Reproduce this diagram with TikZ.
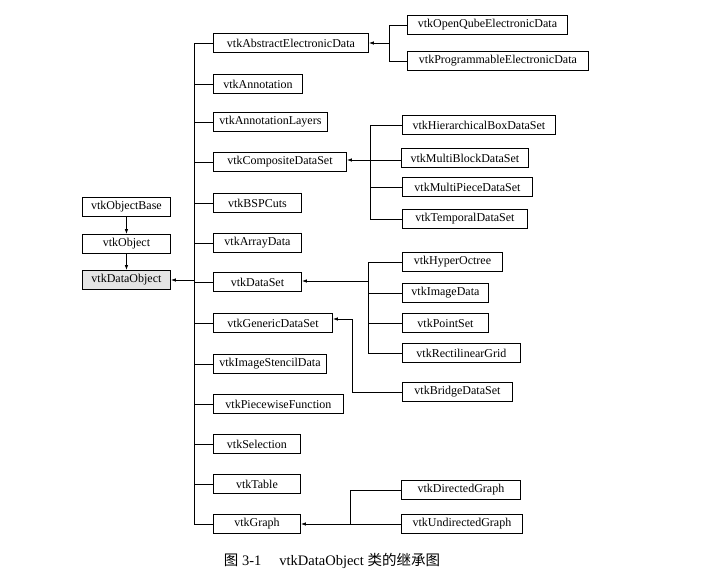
\documentclass[tikz,border=0pt]{standalone}
\usepackage{fontspec}
\setmainfont{Liberation Serif}
\newfontfamily\cjk{Noto Sans CJK SC}
\usetikzlibrary{arrows.meta}
\begin{document}
\begin{tikzpicture}[x=1pt,y=-1pt,
  box/.style={draw,line width=0.9pt,minimum height=19pt,inner sep=0pt,anchor=west,font=\fontsize{12}{13}\selectfont},
  arr/.style={-{Latex[length=5pt,width=3.5pt]},line width=0.8pt},
  ln/.style={line width=0.9pt}]
\useasboundingbox (0,0) rectangle (705,576);
% left column
\node[box,minimum width=88pt] (ob) at (82,207) {vtkObjectBase};
\node[box,minimum width=88pt] (o) at (82,244) {vtkObject};
\node[box,minimum width=88pt,fill=gray!20] (do) at (82,280) {vtkDataObject};
\draw[arr] (ob) -- (o);
\draw[arr] (o) -- (do);
% middle column
\node[box,minimum width=155pt] (ae) at (213,43) {vtkAbstractElectronicData};
\node[box,minimum width=89pt] (an) at (213,84) {vtkAnnotation};
\node[box,minimum width=114pt] (al) at (213,122) {vtkAnnotationLayers};
\node[box,minimum width=133pt] (cd) at (213,162) {vtkCompositeDataSet};
\node[box,minimum width=88pt] (bsp) at (213,203) {vtkBSPCuts};
\node[box,minimum width=88pt] (ad) at (213,243) {vtkArrayData};
\node[box,minimum width=88pt] (ds) at (213,282) {vtkDataSet};
\node[box,minimum width=119pt] (gds) at (213,323) {vtkGenericDataSet};
\node[box,minimum width=113pt] (isd) at (213,364) {vtkImageStencilData};
\node[box,minimum width=130pt] (pf) at (213,404) {vtkPiecewiseFunction};
\node[box,minimum width=87pt] (sel) at (213,444) {vtkSelection};
\node[box,minimum width=87pt] (tab) at (213,484) {vtkTable};
\node[box,minimum width=87pt] (gr) at (213,524) {vtkGraph};
% trunk
\coordinate (tt) at (194,43);
\coordinate (tb) at (194,524);
\coordinate (td) at (194,280);
\draw[ln] (tt) -- (tb);
\foreach \n in {ae,an,al,cd,bsp,ad,ds,gds,isd,pf,sel,tab,gr}
  \draw[ln] (\n.west) -- (\n.west -| tt);
\draw[arr] (td) -- (do.east |- td);
% right column: electronic data
\node[box,minimum width=160pt] (oq) at (407,25) {vtkOpenQubeElectronicData};
\node[box,minimum width=181pt] (pe) at (407,61) {vtkProgrammableElectronicData};
\coordinate (j1) at (389,43);
\draw[ln] (oq.west) -- (oq.west -| j1) -- (pe.west -| j1) -- (pe.west);
\draw[arr] (j1) -- (ae.east);
% composite
\node[box,minimum width=153pt] (hb) at (402,125) {vtkHierarchicalBoxDataSet};
\node[box,minimum width=127pt] (mb) at (401,158) {vtkMultiBlockDataSet};
\node[box,minimum width=130pt] (mp) at (402,187) {vtkMultiPieceDataSet};
\node[box,minimum width=125pt] (tp) at (402,219) {vtkTemporalDataSet};
\coordinate (j2) at (370,160);
\draw[ln] (hb.west) -- (hb.west -| j2) -- (tp.west -| j2) -- (tp.west);
\draw[ln] (mp.west) -- (mp.west -| j2);
\draw[ln] (mb.west |- j2) -- (j2);
\draw[arr] (j2) -- (cd.east |- j2);
% dataset
\node[box,minimum width=100pt] (ho) at (402,262) {vtkHyperOctree};
\node[box,minimum width=86pt] (id) at (402,293) {vtkImageData};
\node[box,minimum width=86pt] (ps) at (402,323) {vtkPointSet};
\node[box,minimum width=118pt] (rg) at (402,353) {vtkRectilinearGrid};
\coordinate (j3) at (368,281);
\draw[ln] (ho.west) -- (ho.west -| j3) -- (rg.west -| j3) -- (rg.west);
\draw[ln] (id.west) -- (id.west -| j3);
\draw[ln] (ps.west) -- (ps.west -| j3);
\draw[arr] (j3) -- (ds.east |- j3);
% generic
\node[box,minimum width=110pt] (bd) at (402,392) {vtkBridgeDataSet};
\coordinate (j5) at (352,319);
\draw[arr] (bd.west) -- (bd.west -| j5) -- (j5) -- (gds.east |- j5);
% graph
\node[box,minimum width=119pt] (dg) at (401,490) {vtkDirectedGraph};
\node[box,minimum width=121pt] (ug) at (401,524) {vtkUndirectedGraph};
\coordinate (j4) at (350,524);
\draw[ln] (dg.west) -- (dg.west -| j4) -- (j4);
\draw[ln] (ug.west) -- (j4);
\draw[arr] (j4) -- (gr.east);
% caption
\node[font=\fontsize{14.5}{16}\selectfont] (cap) at (332,561) {{\cjk 图} 3-1\hspace{18pt}vtkDataObject {\cjk 类的继承图}};
\end{tikzpicture}
\end{document}
